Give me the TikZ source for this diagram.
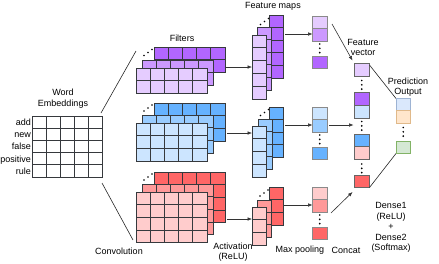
\documentclass[tikz,border=0pt]{standalone}
\usepackage{fontspec}
\setmainfont{Liberation Sans}
\usetikzlibrary{arrows.meta}
\definecolor{pA}{HTML}{E5CCFF}\definecolor{pB}{HTML}{CC99FF}\definecolor{pC}{HTML}{B266FF}
\definecolor{bA}{HTML}{CCE5FF}\definecolor{bB}{HTML}{99CCFF}\definecolor{bC}{HTML}{66B2FF}
\definecolor{rA}{HTML}{FFCCCC}\definecolor{rB}{HTML}{FF9999}\definecolor{rC}{HTML}{FF6666}
\definecolor{gridline}{HTML}{36393D}
\definecolor{vecline}{HTML}{8A8A8A}
\definecolor{oB}{HTML}{DAE8FC}\definecolor{oBs}{HTML}{9DB3D3}
\definecolor{oO}{HTML}{FFE6CC}\definecolor{oOs}{HTML}{E0B98A}
\definecolor{oG}{HTML}{D5E8D4}\definecolor{oGs}{HTML}{82B366}
\newcommand\cellgrid[7]{%
  \foreach \ci in {1,...,#3}{\foreach \ri in {1,...,#4}{%
    \filldraw[fill=#7,draw=gridline,line width=0.7pt] ({#1+(\ci-1)*#5},{#2+(\ri-1)*#6}) rectangle ++(#5,#6);}}}
\newcommand\vcell[4]{\filldraw[fill=#3,draw=#4,line width=0.7pt] (#1,#2) rectangle ++(14.5,12.8);}
\newcommand\mydotsv[2]{\foreach \dd in {0,4.3,8.6}{\fill (#1,{#2+\dd}) circle (0.95);}}
\newcommand\mydotsd[2]{\fill (#1,#2) circle (0.95); \fill ({#1+4},{#2-3}) circle (0.95); \fill ({#1+8},{#2-6}) circle (0.95);}
\tikzset{
  lbl/.style={font=\fontsize{9}{10.6}\selectfont, align=center, inner sep=0pt},
  arr/.style={draw=black!80, line width=0.6pt, -{Latex[length=4.5pt,width=3.6pt]}},
  ln/.style={draw=black!85, line width=0.6pt}
}
\begin{document}
\begin{tikzpicture}[x=1pt,y=-1pt]
\useasboundingbox (0,0) rectangle (439,263);
% word embeddings
\cellgrid{32}{116}{5}{5}{14}{12.2}{white}
\node[lbl] (we) at (63,98.5) {Word\\Embeddings};
\foreach \w/\yy [count=\k] in {add/125.4,new/137.6,false/149.8,positive/162,rule/174.2}
  \node[lbl,anchor=base east] (w\k) at (31,\yy) {\w};
\coordinate (e1) at (101,113); \coordinate (f1) at (136,51);
\coordinate (e2) at (102,183); \coordinate (f2) at (133,240);
\draw[ln] (e1) -- (f1);
\draw[ln] (e2) -- (f2);
% filters
\cellgrid{154}{47}{5}{2}{14.2}{12.6}{pC}
\cellgrid{142}{60}{5}{2}{14.2}{12.6}{pB}
\cellgrid{136}{68}{5}{2}{14.2}{12.6}{pA}
\mydotsd{144}{55.5}
\cellgrid{154}{103}{5}{3}{14.2}{12.7}{bC}
\cellgrid{142}{115}{5}{3}{14.2}{12.7}{bB}
\cellgrid{136}{123}{5}{3}{14.2}{12.7}{bA}
\mydotsd{144}{111}
\cellgrid{154}{172}{5}{4}{14.2}{12.7}{rC}
\cellgrid{142}{184}{5}{4}{14.2}{12.7}{rB}
\cellgrid{136}{192}{5}{4}{14.2}{12.7}{rA}
\mydotsd{144}{180}
\node[lbl] (filt) at (182,38) {Filters};
\node[lbl] (conv) at (119,251) {Convolution};
% arrows filters -> feature maps
\coordinate (a1) at (226,67); \coordinate (b1) at (252,67);
\coordinate (a2) at (227,133); \coordinate (b2) at (252,133);
\coordinate (a3) at (227,219); \coordinate (b3) at (252,219);
\draw[arr] (a1) -- (b1); \draw[arr] (a2) -- (b2); \draw[arr] (a3) -- (b3);
% feature maps
\cellgrid{269}{15}{1}{5}{14}{12.6}{pC}
\cellgrid{257}{27}{1}{5}{14}{12.6}{pB}
\cellgrid{252}{35}{1}{5}{14}{12.8}{pA}
\mydotsd{260.5}{24.5}
\cellgrid{269}{107}{1}{4}{14}{12.6}{bC}
\cellgrid{258}{119}{1}{4}{14}{12.6}{bB}
\cellgrid{252}{126}{1}{4}{14}{12.8}{bA}
\mydotsd{260.5}{115.5}
\cellgrid{269}{187}{1}{3}{14}{12.7}{rC}
\cellgrid{257}{200}{1}{3}{14}{12.4}{rB}
\cellgrid{252}{207}{1}{3}{14}{12.7}{rA}
\mydotsd{260}{196}
\node[lbl] (fm) at (273,6) {Feature maps};
\node[lbl] (act) at (233,252) {Activation\\(ReLU)};
% arrows feature maps -> pooled
\coordinate (c1) at (285,34); \coordinate (d1) at (312.5,34);
\coordinate (c2) at (285,125); \coordinate (d2) at (312.5,125);
\coordinate (c3) at (284,205); \coordinate (d3) at (312.5,205);
\draw[arr] (c1) -- (d1); \draw[arr] (c2) -- (d2); \draw[arr] (c3) -- (d3);
% pooled vectors
\vcell{312.5}{16}{pA}{vecline}\vcell{312.5}{28.8}{pB}{vecline}
\mydotsv{319.75}{44}\vcell{312.5}{56}{pC}{vecline}
\vcell{312.5}{107}{bA}{vecline}\vcell{312.5}{119.8}{bB}{vecline}
\mydotsv{319.75}{135}\vcell{312.5}{147}{bC}{vecline}
\vcell{312.5}{187}{rA}{vecline}\vcell{312.5}{199.8}{rB}{vecline}
\mydotsv{319.75}{215}\vcell{312.5}{227}{rC}{vecline}
\node[lbl] (mp) at (300,250) {Max pooling};
% pooled -> feature vector
\coordinate (g1) at (332,24); \coordinate (h1) at (352.5,60.5);
\coordinate (g2) at (329,125); \coordinate (h2) at (353.5,125);
\coordinate (g3) at (331,213); \coordinate (h3) at (352.5,192);
\draw[arr] (g1) -- (h1); \draw[arr] (g2) -- (h2); \draw[arr] (g3) -- (h3);
% feature vector
\vcell{354.5}{63.5}{pA}{black!60}
\mydotsv{361.75}{80.5}
\vcell{354.5}{92.5}{pC}{black!60}
\vcell{354.5}{105.3}{bA}{black!60}
\mydotsv{361.75}{121.5}
\vcell{354.5}{134}{bC}{black!60}
\vcell{354.5}{146.8}{rA}{black!60}
\mydotsv{361.75}{164}
\vcell{354.5}{175}{rC}{black!60}
\node[lbl] (fv) at (363,47.5) {Feature\\vector};
\node[lbl] (cc) at (346,250) {Concat};
% fv -> prediction
\coordinate (k1) at (369.5,65); \coordinate (m1) at (396,98.5);
\coordinate (k2) at (369.5,187.5); \coordinate (m2) at (396,153.5);
\draw[ln] (k1) -- (m1); \draw[ln] (k2) -- (m2);
% prediction output
\filldraw[fill=oB,draw=oBs,line width=0.7pt] (396,98) rectangle ++(14.5,12.5);
\filldraw[fill=oO,draw=oOs,line width=0.7pt] (396,110.5) rectangle ++(14.5,12.5);
\mydotsv{403.25}{127.5}
\filldraw[fill=oG,draw=oGs,line width=0.7pt] (396,141) rectangle ++(14.5,12.5);
\node[lbl] (po) at (408,87) {Prediction\\Output};
\node[lbl] (dn) at (391,227.5) {Dense1\\(ReLU)\\+\\Dense2\\(Softmax)};
\end{tikzpicture}
\end{document}
